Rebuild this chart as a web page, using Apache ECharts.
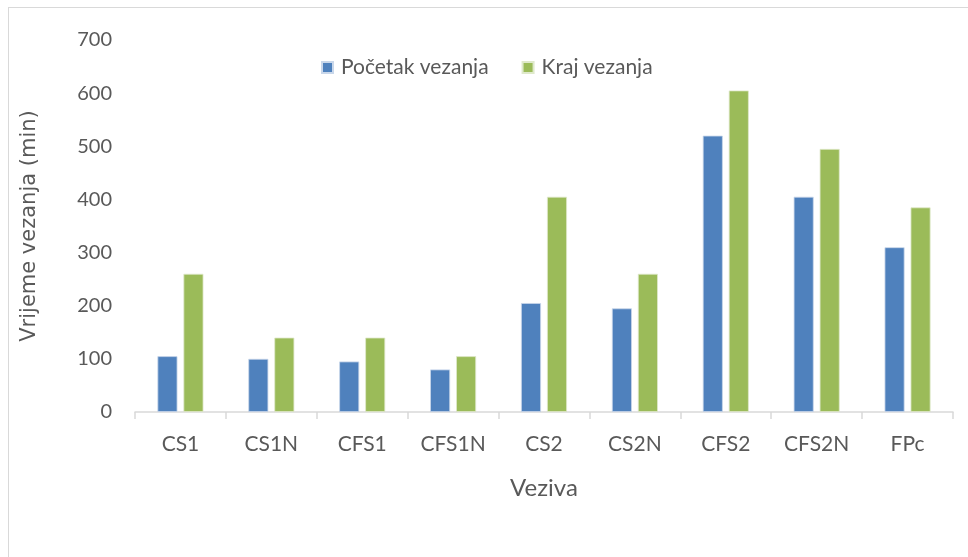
<!DOCTYPE html>
<html>
<head>
<meta charset="utf-8">
<script src="https://cdn.jsdelivr.net/npm/echarts@6/dist/echarts.min.js"></script>
<style>
  html, body { margin: 0; padding: 0; background: #fff; }
  #wrap { position: relative; width: 968px; height: 557px; overflow: hidden; }
  #frame { position: absolute; left: 8px; top: 7px; width: 980px; height: 580px; border: 1px solid #d9d9d9; box-sizing: border-box; }
  #chart { position: absolute; left: 0; top: 0; width: 968px; height: 557px; }
</style>
</head>
<body>
<div id="wrap">
  <div id="frame"></div>
  <div id="chart"></div>
</div>
<script>
// kategorije i vrijednosti (min)
const categories = ['CS1', 'CS1N', 'CFS1', 'CFS1N', 'CS2', 'CS2N', 'CFS2', 'CFS2N', 'FPc']
const pocetak = [105, 100, 95, 80, 205, 195, 520, 405, 310]
const kraj = [260, 140, 140, 105, 405, 260, 605, 495, 385]
const yTicks = [0, 100, 200, 300, 400, 500, 600, 700]

const font = 'Lato, "Open Sans", sans-serif'
const chart = echarts.init(document.getElementById('chart'))

chart.setOption({
  animation: false,
  textStyle: {fontFamily: font},
  grid: {left: 135, right: 15, top: 40, bottom: 145},
  legend: {
    top: 52,
    left: 316,
    itemWidth: 11,
    itemHeight: 11,
    itemGap: 33,
    icon: 'rect',
    textStyle: {fontSize: 21, color: '#595959', fontFamily: font, padding: [0, 0, 0, 3]},
    data: ['Početak vezanja', 'Kraj vezanja']
  },
  xAxis: {
    type: 'category',
    data: categories,
    name: 'Veziva',
    nameLocation: 'middle',
    nameGap: 64,
    nameTextStyle: {fontSize: 24, color: '#595959', fontFamily: font},
    axisLine: {lineStyle: {color: '#d9d9d9', width: 1.5}},
    axisTick: {show: true, length: 7, lineStyle: {color: '#d9d9d9', width: 1.5}},
    axisLabel: {fontSize: 21, color: '#595959', margin: 22}
  },
  yAxis: {
    type: 'value',
    min: yTicks[0],
    max: yTicks[yTicks.length - 1],
    interval: 100,
    name: 'Vrijeme vezanja (min)',
    nameLocation: 'middle',
    nameGap: 95,
    nameTextStyle: {fontSize: 21, color: '#595959', fontFamily: '"DejaVu Sans", sans-serif'},
    axisLine: {show: false},
    axisTick: {show: false},
    splitLine: {show: false},
    axisLabel: {fontSize: 20, color: '#595959', margin: 23}
  },
  series: [
    {
      name: 'Početak vezanja',
      type: 'bar',
      data: pocetak,
      barWidth: 20,
      barGap: '30%',
      itemStyle: {color: '#4f81bd', borderColor: '#c9d7ea', borderWidth: 0.8}
    },
    {
      name: 'Kraj vezanja',
      type: 'bar',
      data: kraj,
      barWidth: 20,
      itemStyle: {color: '#9bbb59', borderColor: '#dfe9cb', borderWidth: 0.8}
    }
  ]
})
</script>
</body>
</html>
